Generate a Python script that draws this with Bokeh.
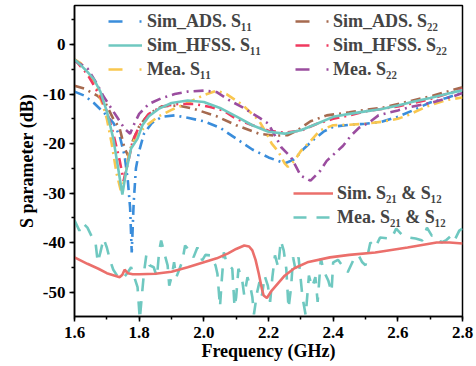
from bokeh.plotting import figure
from bokeh.models import Legend, LegendItem, Range1d, FixedTicker, PrintfTickFormatter
from bokeh.embed import file_html
from bokeh.resources import INLINE

# ---------------- data ----------------
f_ads_s11 = [1.60, 1.63, 1.66, 1.69, 1.72, 1.74, 1.755, 1.765, 1.772, 1.777, 1.783, 1.79, 1.80, 1.815, 1.84,
             1.87, 1.91, 1.95, 2.00, 2.05, 2.10, 2.15, 2.20, 2.25, 2.28, 2.31, 2.34, 2.37, 2.40, 2.45,
             2.50, 2.55, 2.60, 2.65, 2.70, 2.75, 2.80]
ads_s11 = [-9.5, -10.3, -11.8, -13.7, -15.8, -18.5, -22.5, -27.5, -33.0, -42.0, -32.0, -25.0, -21.5, -18.0, -15.8,
           -14.6, -14.3, -14.8, -15.5, -16.8, -19.0, -21.2, -22.8, -24.0, -23.2, -21.0, -19.2, -17.6, -16.6, -16.2,
           -16.0, -15.6, -14.6, -13.2, -11.7, -10.8, -9.7]

f_hfss_s11 = [1.60, 1.62, 1.64, 1.66, 1.68, 1.70, 1.72, 1.735, 1.748, 1.76, 1.775, 1.795, 1.81, 1.83, 1.86,
              1.90, 1.95, 2.00, 2.05, 2.10, 2.15, 2.20, 2.25, 2.30, 2.35, 2.40, 2.45, 2.50, 2.55, 2.60,
              2.65, 2.70, 2.75, 2.80]
hfss_s11 = [-3.0, -4.2, -5.5, -7.0, -9.5, -13.5, -19.0, -25.0, -30.3, -25.5, -21.0, -19.0, -16.3, -14.5, -13.0,
            -11.8, -11.3, -11.6, -12.8, -14.5, -16.3, -17.6, -18.0, -17.3, -16.0, -14.6, -14.0, -13.5, -13.0, -12.3,
            -11.5, -10.8, -10.0, -9.2]

f_mea_s11 = [1.60, 1.62, 1.65, 1.67, 1.69, 1.70, 1.715, 1.73, 1.745, 1.755, 1.77, 1.79, 1.82, 1.86, 1.90,
             1.95, 2.00, 2.04, 2.07, 2.10, 2.12, 2.17, 2.19, 2.21, 2.23, 2.25, 2.26, 2.28, 2.30, 2.33,
             2.36, 2.40, 2.45, 2.50, 2.55, 2.60, 2.63, 2.69, 2.75, 2.80]
mea_s11 = [-3.0, -3.8, -6.7, -9.0, -12.7, -15.0, -20.0, -26.0, -30.0, -27.0, -21.5, -18.5, -16.5, -14.5, -13.2,
           -11.8, -10.2, -9.3, -10.0, -11.3, -12.2, -15.3, -17.5, -20.0, -21.6, -24.0, -24.7, -23.5, -21.5, -19.5,
           -17.3, -16.3, -16.2, -16.0, -15.6, -15.0, -14.3, -12.5, -11.2, -10.7]

f_ads_s22 = [1.60, 1.63, 1.67, 1.695, 1.72, 1.74, 1.755, 1.767, 1.78, 1.80, 1.83, 1.87, 1.92, 1.97, 2.04,
             2.10, 2.17, 2.22, 2.26, 2.29, 2.33, 2.38, 2.45, 2.50, 2.55, 2.62, 2.71, 2.80]
ads_s22 = [-8.3, -8.9, -10.3, -11.7, -15.0, -17.0, -21.0, -22.6, -19.5, -16.5, -14.0, -12.5, -12.3, -13.0, -14.5,
           -16.3, -18.0, -18.4, -18.3, -17.3, -15.5, -14.3, -13.7, -13.2, -12.8, -11.7, -10.3, -8.6]

f_hfss_s22 = [1.60, 1.64, 1.68, 1.70, 1.72, 1.74, 1.752, 1.765, 1.78, 1.80, 1.83, 1.87, 1.92, 1.97, 2.02,
              2.06, 2.10, 2.15, 2.20, 2.25, 2.30, 2.35, 2.40, 2.45, 2.50, 2.55, 2.60, 2.65, 2.70, 2.75, 2.80]
hfss_s22 = [-3.0, -6.0, -10.5, -13.5, -18.0, -23.5, -27.5, -24.0, -19.5, -16.5, -14.0, -12.5, -12.0, -12.0, -12.6,
            -13.3, -15.0, -16.3, -17.4, -17.8, -17.4, -16.0, -15.0, -14.3, -13.5, -13.0, -12.5, -11.8, -11.0, -10.0, -9.0]

f_mea_s22 = [1.60, 1.64, 1.67, 1.69, 1.715, 1.735, 1.755, 1.772, 1.785, 1.80, 1.83, 1.87, 1.91, 1.95, 2.00,
             2.04, 2.08, 2.12, 2.17, 2.20, 2.24, 2.27, 2.30, 2.33, 2.36, 2.38, 2.40, 2.43, 2.455, 2.48,
             2.51, 2.54, 2.60, 2.64, 2.70, 2.76, 2.80]
mea_s22 = [-3.2, -4.8, -8.0, -10.5, -13.0, -15.0, -17.0, -18.0, -16.0, -14.0, -12.0, -10.8, -10.0, -9.5, -9.3,
           -9.6, -11.3, -12.7, -14.7, -16.0, -20.8, -22.8, -26.5, -27.5, -25.5, -23.5, -22.3, -20.5, -18.4, -16.8,
           -15.8, -14.3, -13.3, -12.6, -11.8, -10.7, -9.8]

f_sim_s21 = [1.60, 1.64, 1.674, 1.70, 1.72, 1.740, 1.748, 1.755, 1.765, 1.78, 1.80, 1.85, 1.90, 1.95, 2.00,
             2.04, 2.075, 2.10, 2.125, 2.14, 2.15, 2.16, 2.17, 2.18, 2.185, 2.195, 2.21, 2.23, 2.25, 2.28,
             2.32, 2.39, 2.45, 2.53, 2.63, 2.72, 2.76, 2.80]
sim_s21 = [-43.0, -44.3, -45.3, -46.2, -46.6, -47.0, -46.5, -45.5, -46.2, -46.4, -46.4, -46.3, -45.9, -45.0, -44.0,
           -43.2, -42.2, -41.3, -40.6, -40.8, -41.6, -43.5, -46.3, -49.5, -50.7, -51.2, -49.7, -48.2, -46.7, -45.2,
           -44.0, -43.0, -42.5, -42.0, -41.0, -40.0, -40.0, -40.2]

f_mea_s21 = [1.600, 1.615, 1.625, 1.640, 1.655, 1.665, 1.672, 1.680, 1.690, 1.700, 1.710, 1.720, 1.735, 1.750,
             1.765, 1.775, 1.785, 1.795, 1.802, 1.808, 1.815, 1.822, 1.832, 1.845, 1.855, 1.862, 1.868, 1.878,
             1.888, 1.893, 1.900, 1.908, 1.915, 1.925, 1.934, 1.942, 1.955, 1.968, 1.980, 1.995, 2.005, 2.020,
             2.036, 2.042, 2.050, 2.055, 2.062, 2.070, 2.088, 2.095, 2.100, 2.107, 2.118, 2.125, 2.135, 2.145,
             2.150, 2.155, 2.165, 2.172, 2.180, 2.188, 2.198, 2.205, 2.212, 2.220, 2.230, 2.238, 2.247, 2.255,
             2.262, 2.270, 2.276, 2.283, 2.293, 2.305, 2.315, 2.325, 2.335, 2.345, 2.352, 2.362, 2.370, 2.385,
             2.395, 2.400, 2.415, 2.432, 2.445, 2.462, 2.478, 2.490, 2.500, 2.515, 2.530, 2.545, 2.580, 2.595,
             2.615, 2.635, 2.655, 2.676, 2.690, 2.705, 2.720, 2.735, 2.750, 2.765, 2.775, 2.790, 2.800]
mea_s21 = [-35.5, -37.6, -36.0, -37.0, -39.0, -40.0, -44.0, -42.0, -39.2, -41.0, -43.6, -45.5, -47.0, -47.3,
           -46.0, -45.0, -47.0, -49.0, -55.5, -51.0, -46.0, -42.6, -44.6, -45.0, -47.0, -41.6, -39.6, -42.2,
           -44.6, -48.7, -47.0, -44.0, -47.0, -45.3, -43.6, -40.6, -41.6, -43.0, -41.0, -43.6, -42.5, -42.6,
           -44.6, -46.3, -53.0, -48.0, -42.0, -44.0, -45.3, -53.0, -51.0, -45.3, -47.3, -50.7, -47.0, -49.3,
           -51.0, -54.5, -50.0, -48.0, -50.7, -46.7, -48.7, -52.0, -47.0, -42.6, -45.0, -39.6, -41.6, -45.3,
           -53.3, -49.0, -43.0, -45.3, -43.0, -51.0, -54.7, -46.7, -49.0, -47.0, -52.0, -43.2, -45.6, -47.7,
           -50.0, -44.0, -43.5, -45.0, -46.0, -43.6, -42.5, -44.0, -44.6, -40.0, -41.0, -39.0, -39.2, -37.2,
           -38.6, -39.0, -39.2, -39.6, -37.0, -38.6, -38.6, -40.0, -39.5, -38.6, -39.6, -37.6, -37.2]

x_ticks = [1.6, 1.8, 2.0, 2.2, 2.4, 2.6, 2.8]
x_minor = [1.6, 1.7, 1.8, 1.9, 2.0, 2.1, 2.2, 2.3, 2.4, 2.5, 2.6, 2.7, 2.8]
y_ticks = [-50, -40, -30, -20, -10, 0]
y_minor = [-55, -50, -45, -40, -35, -30, -25, -20, -15, -10, -5, 0, 5]

labels = ["Sim_ADS. S\u2081\u2081", "Sim_HFSS. S\u2081\u2081", "Mea. S\u2081\u2081",
          "Sim_ADS. S\u2082\u2082", "Sim_HFSS. S\u2082\u2082", "Mea. S\u2082\u2082",
          "Sim. S\u2082\u2081 & S\u2081\u2082", "Mea. S\u2082\u2081 & S\u2081\u2082"]

# ---------------- styles ----------------
C_BLUE = "#3A8DDB"
C_TEAL = "#6FC8C0"
C_YEL = "#F9C74F"
C_BROWN = "#A66A4F"
C_RED = "#F03A5F"
C_PURP = "#9B4D9F"
C_SALM = "#EB6F6B"
FONT = "Liberation Serif"
LW = 2.6
DD = "10 5 2 5"
DD_LEG = "14 17 2 10"
NAN = float("nan")

p = figure(width=476, height=366, x_range=Range1d(1.6, 2.8), y_range=Range1d(-54.95, 7.9),
           output_backend="svg", toolbar_location=None,
           min_border_left=74, min_border_right=14, min_border_top=5, min_border_bottom=50)
p.xgrid.visible = False
p.ygrid.visible = False
p.outline_line_color = "black"
p.outline_line_width = 1.5
p.background_fill_color = "white"

# curves
r_mea21 = p.line(f_mea_s21, mea_s21, line_color=C_TEAL, line_width=LW, line_dash="13 10")
r_sim21 = p.line(f_sim_s21, sim_s21, line_color=C_SALM, line_width=LW)
p.line(f_ads_s11, ads_s11, line_color=C_BLUE, line_width=LW, line_dash=DD)
p.line(f_ads_s22, ads_s22, line_color=C_BROWN, line_width=LW, line_dash=DD)
p.line(f_mea_s11, mea_s11, line_color=C_YEL, line_width=LW, line_dash=DD)
p.line(f_hfss_s22, hfss_s22, line_color=C_RED, line_width=LW, line_dash=DD)
p.line(f_mea_s22, mea_s22, line_color=C_PURP, line_width=LW, line_dash=DD)
r_hfss11 = p.line(f_hfss_s11, hfss_s11, line_color=C_TEAL, line_width=LW)

# legend sample renderers (a single NaN point, so nothing is drawn in the plot)
def proxy(color):
    return p.line([NAN], [NAN], line_color=color, line_width=LW, line_dash=DD_LEG)

lg_ads11 = proxy(C_BLUE)
lg_mea11 = proxy(C_YEL)
lg_ads22 = proxy(C_BROWN)
lg_hfss22 = proxy(C_RED)
lg_mea22 = proxy(C_PURP)

def add_legend(items, loc, gw, standoff):
    lg = Legend(items=items, location=loc, orientation="vertical",
                glyph_width=gw, glyph_height=24, label_height=24, label_standoff=standoff,
                spacing=0, padding=0, margin=0,
                border_line_alpha=0, background_fill_alpha=0,
                label_text_font=FONT, label_text_font_style="bold", label_text_font_size="18px")
    p.add_layout(lg)

add_legend([LegendItem(label=labels[0], renderers=[lg_ads11]),
            LegendItem(label=labels[1], renderers=[r_hfss11]),
            LegendItem(label=labels[2], renderers=[lg_mea11])], (34, 235), 34, 5)
add_legend([LegendItem(label=labels[3], renderers=[lg_ads22]),
            LegendItem(label=labels[4], renderers=[lg_hfss22]),
            LegendItem(label=labels[5], renderers=[lg_mea22])], (221, 235), 34, 4)
add_legend([LegendItem(label=labels[6], renderers=[r_sim21]),
            LegendItem(label=labels[7], renderers=[r_mea21])], (219, 87), 40, 4)

# axes
p.xaxis.ticker = FixedTicker(ticks=x_ticks, minor_ticks=x_minor)
p.yaxis.ticker = FixedTicker(ticks=y_ticks, minor_ticks=y_minor)
p.xaxis.formatter = PrintfTickFormatter(format="%.1f")
p.yaxis.formatter = PrintfTickFormatter(format="%d")
p.xaxis.axis_label = "Frequency (GHz)"
p.yaxis.axis_label = "S parameter (dB)"
for ax in (p.xaxis, p.yaxis):
    ax.axis_line_width = 1.5
    ax.axis_line_color = "black"
    ax.major_tick_line_width = 1.5
    ax.minor_tick_line_width = 1.5
    ax.major_tick_line_color = "black"
    ax.minor_tick_line_color = "black"
    ax.major_tick_in = 0
    ax.major_tick_out = 5
    ax.minor_tick_in = 0
    ax.minor_tick_out = 3
    ax.major_label_text_font = FONT
    ax.major_label_text_font_style = "bold"
    ax.major_label_text_font_size = "17px"
    ax.major_label_text_color = "black"
    ax.axis_label_text_font = FONT
    ax.axis_label_text_font_style = "bold"
    ax.axis_label_text_font_size = "18px"
    ax.axis_label_text_color = "black"
p.xaxis.major_label_standoff = 5
p.xaxis.axis_label_standoff = 0
p.yaxis.major_label_standoff = 4
p.yaxis.axis_label_standoff = 3

open("out.html", "w").write(file_html(p, INLINE))
